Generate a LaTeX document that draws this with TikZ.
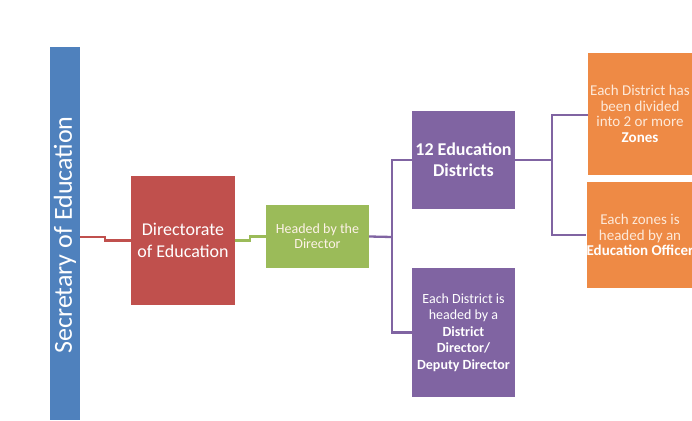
\documentclass[tikz,border=0pt]{standalone}
\usepackage{fontspec}
\setmainfont{Carlito}
\definecolor{cblue}{HTML}{4F81BD}
\definecolor{cred}{HTML}{C0504D}
\definecolor{cgreen}{HTML}{9BBB59}
\definecolor{cpurple}{HTML}{8064A2}
\definecolor{corange}{HTML}{EE8A45}
\definecolor{ccream}{HTML}{FDE9D9}
\begin{document}
\begin{tikzpicture}[x=1pt,y=-1pt,
  box/.style={draw=none,rectangle,inner sep=0pt,text=white,align=center},
  conn/.style={line width=2.3pt}]
\useasboundingbox (0,0) rectangle (692,420);
% boxes
\fill[cblue] (50,47) rectangle (80,420);
\node[rotate=90,text=white,font=\fontsize{26}{30}\selectfont] (sec) at (65,235) {Secretary of Education};
\coordinate (secE) at (80,237);
\node[box,fill=cred,minimum width=104pt,minimum height=129pt,font=\fontsize{18}{22}\selectfont] (dir) at (183,240.5) {Directorate\\of Education};
\node[box,fill=cgreen,text=ccream!60!white,minimum width=103pt,minimum height=63pt,font=\fontsize{14}{15}\selectfont] (head) at (317.5,236.5) {Headed by the\\Director};
\node[box,fill=cpurple,minimum width=103pt,minimum height=98pt,font=\fontsize{18}{21}\selectfont\bfseries] (dist) at (463.5,160) {12 Education\\Districts};
\node[box,fill=cpurple,minimum width=103pt,minimum height=129pt,font=\fontsize{14}{16.5}\selectfont] (dd) at (463.5,332.5) {Each District is\\headed by a\\\textbf{District}\\\textbf{Director/}\\\textbf{Deputy Director}};
\node[box,fill=corange,text=ccream,minimum width=104pt,minimum height=122pt,font=\fontsize{15}{15.5}\selectfont] (zones) at (640,114) {Each District has\\been divided\\into 2 or more\\\textcolor{white}{\textbf{Zones}}};
\node[box,fill=corange,text=ccream,minimum width=104pt,minimum height=106pt,font=\fontsize{15}{15.5}\selectfont] (eo) at (640,235) {Each zones is\\headed by an\\\textcolor{white}{\textbf{Education Officer}}};
% connectors
\draw[conn,cred] (secE) -- ++(25,0) |- (dir.west);
\draw[conn,cgreen] (dir.east) -- ++(15,0) |- (head.west);
\coordinate (j1) at (392,237);
\draw[conn,cpurple] (head.east) -- (j1);
\draw[conn,cpurple] (j1) |- (dist.west);
\draw[conn,cpurple] (j1) |- (dd.west);
\coordinate (j2) at (552,160);
\draw[conn,cpurple] (dist.east) -- (j2);
\draw[conn,cpurple] (j2) |- ([yshift=-1pt]zones.west);
\draw[conn,cpurple] (j2) |- (eo.west);
\end{tikzpicture}
\end{document}
